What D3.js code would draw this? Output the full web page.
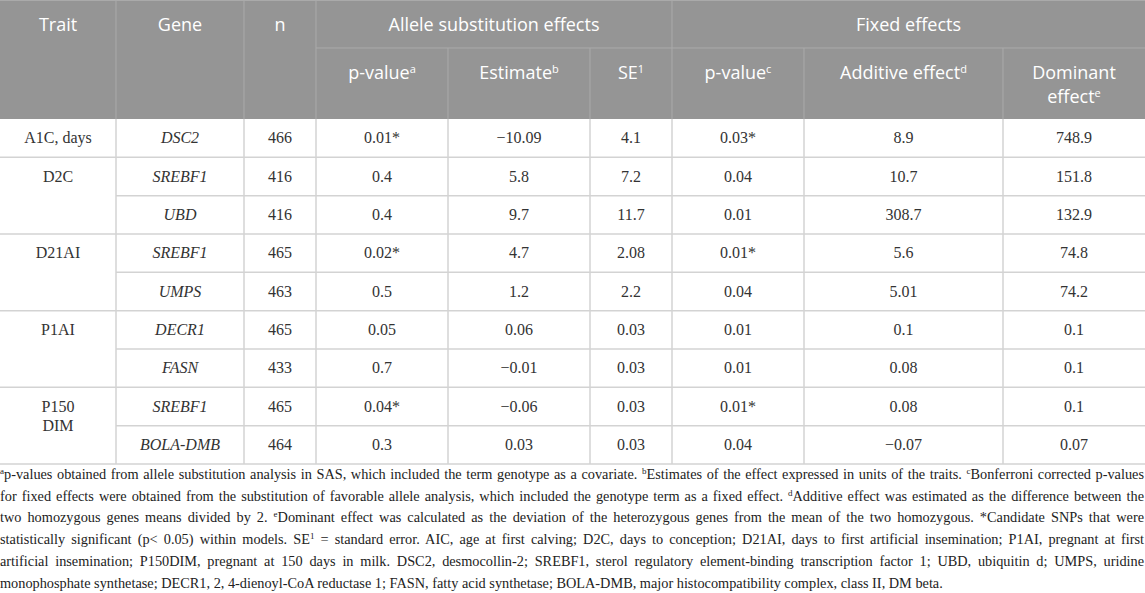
<!DOCTYPE html>
<html>
<head>
<meta charset="utf-8">
<script src="https://cdn.jsdelivr.net/npm/d3@7"></script>
<style>
  body { margin: 0; background: #fff; }
  svg { display: block; }
</style>
</head>
<body>
<div id="table-area"></div>
<script>
// Table values
var traitNames = ["A1C, days", "D2C", "D21AI", "P1AI", "P150 DIM"];
var traitSpans = [1, 2, 2, 2, 2];
var genes = ["DSC2", "SREBF1", "UBD", "SREBF1", "UMPS", "DECR1", "FASN", "SREBF1", "BOLA-DMB"];
var nValues = ["466", "416", "416", "465", "463", "465", "433", "465", "464"];
var pAllele = ["0.01*", "0.4", "0.4", "0.02*", "0.5", "0.05", "0.7", "0.04*", "0.3"];
var estimates = ["\u221210.09", "5.8", "9.7", "4.7", "1.2", "0.06", "\u22120.01", "\u22120.06", "0.03"];
var seValues = ["4.1", "7.2", "11.7", "2.08", "2.2", "0.03", "0.03", "0.03", "0.03"];
var pFixed = ["0.03*", "0.04", "0.01", "0.01*", "0.04", "0.01", "0.01", "0.01*", "0.04"];
var additive = ["8.9", "10.7", "308.7", "5.6", "5.01", "0.1", "0.08", "0.08", "\u22120.07"];
var dominant = ["748.9", "151.8", "132.9", "74.8", "74.2", "0.1", "0.1", "0.1", "0.07"];

// Header labels: [text, superscript]
var groupHeaders = [["Allele substitution effects", 3, 6], ["Fixed effects", 6, 9]];
var subHeaders = [["p-value", "a"], ["Estimate", "b"], ["SE", "1"], ["p-value", "c"], ["Additive effect", "d"], ["Dominant|effect", "e"]];

var footnoteLines = [
  "{a}p-values obtained from allele substitution analysis in SAS, which included the term genotype as a covariate. {b}Estimates of the effect expressed in units of the traits. {c}Bonferroni corrected p-values",
  "for fixed effects were obtained from the substitution of favorable allele analysis, which included the genotype term as a fixed effect. {d}Additive effect was estimated as the difference between the",
  "two homozygous genes means divided by 2. {e}Dominant effect was calculated as the deviation of the heterozygous genes from the mean of the two homozygous. *Candidate SNPs that were",
  "statistically significant (p< 0.05) within models. SE{1} = standard error. AIC, age at first calving; D2C, days to conception; D21AI, days to first artificial insemination; P1AI, pregnant at first",
  "artificial insemination; P150DIM, pregnant at 150 days in milk. DSC2, desmocollin-2; SREBF1, sterol regulatory element-binding transcription factor 1; UBD, ubiquitin d; UMPS, uridine",
  "monophosphate synthetase; DECR1, 2, 4-dienoyl-CoA reductase 1; FASN, fatty acid synthetase; BOLA-DMB, major histocompatibility complex, class II, DM beta."
];

// Layout
var width = 1145, height = 593;
var colEdges = [0, 116, 244, 316, 448, 590, 672, 804, 1003, 1145];
var headTop = 0, headMid = 48, headBottom = 119, tableBottom = 464;
var headFont = "'Open Sans', 'Noto Sans', sans-serif";
var bodyFont = "'Liberation Serif', 'DejaVu Serif', serif";

var svg = d3.select("#table-area")
  .append("svg")
    .attr("width", width)
    .attr("height", height);

var y = d3.scaleLinear()
  .domain([0, genes.length])
  .range([headBottom, tableBottom]);

function colCenter(i) { return (colEdges[i] + colEdges[i + 1]) / 2; }

// Header background
svg.append("rect")
  .attr("x", 0).attr("y", headTop)
  .attr("width", width).attr("height", headBottom - headTop)
  .attr("fill", "#959595");

var headLines = svg.append("g")
  .attr("stroke", "#aaaaaa")
  .attr("stroke-width", 1);
headLines.append("line").attr("x1", 0).attr("x2", width).attr("y1", 0.5).attr("y2", 0.5);
[1, 2, 3, 6].forEach(function(i) {
  headLines.append("line")
    .attr("x1", colEdges[i]).attr("x2", colEdges[i])
    .attr("y1", headTop).attr("y2", headBottom);
});
[4, 5, 7, 8].forEach(function(i) {
  headLines.append("line")
    .attr("x1", colEdges[i]).attr("x2", colEdges[i])
    .attr("y1", headMid).attr("y2", headBottom);
});
headLines.append("line")
  .attr("x1", colEdges[3]).attr("x2", width)
  .attr("y1", headMid).attr("y2", headMid);

var head = svg.append("g")
  .attr("font-family", headFont)
  .attr("font-size", "18px")
  .attr("fill", "#ffffff")
  .attr("text-anchor", "middle");

["Trait", "Gene", "n"].forEach(function(t, i) {
  head.append("text")
    .attr("x", colCenter(i)).attr("y", 31)
    .text(t);
});

groupHeaders.forEach(function(gh) {
  head.append("text")
    .attr("x", (colEdges[gh[1]] + colEdges[gh[2]]) / 2).attr("y", 31)
    .text(gh[0]);
});

subHeaders.forEach(function(sh, i) {
  var parts = sh[0].split("|");
  var cx = colCenter(i + 3);
  parts.forEach(function(p, j) {
    var t = head.append("text")
      .attr("x", cx).attr("y", 79 + j * 24);
    t.append("tspan").text(p);
    if (j == parts.length - 1) {
      t.append("tspan")
        .attr("font-size", "11px")
        .attr("dy", -6)
        .text(sh[1]);
    }
  });
});

// Body grid
var grid = svg.append("g")
  .attr("stroke", "#d3d3d3")
  .attr("stroke-width", 1.5);

var groupStarts = [];
var acc = 0;
traitSpans.forEach(function(s) { groupStarts.push(acc); acc += s; });

d3.range(1, genes.length + 1).forEach(function(k) {
  var isGroupEdge = groupStarts.indexOf(k) >= 0 || k == genes.length;
  grid.append("line")
    .attr("x1", isGroupEdge ? 0 : colEdges[1]).attr("x2", width)
    .attr("y1", y(k)).attr("y2", y(k));
});
colEdges.slice(1, -1).forEach(function(cx) {
  grid.append("line")
    .attr("x1", cx).attr("x2", cx)
    .attr("y1", headBottom).attr("y2", tableBottom);
});

// Body text
var body = svg.append("g")
  .attr("font-family", bodyFont)
  .attr("font-size", "16px")
  .attr("fill", "#333333")
  .attr("text-anchor", "middle");

traitNames.forEach(function(name, i) {
  var lines = name == "P150 DIM" ? ["P150", "DIM"] : [name];
  lines.forEach(function(l, j) {
    body.append("text")
      .attr("x", colCenter(0))
      .attr("y", (y(groupStarts[i]) + y(groupStarts[i] + 1)) / 2 + 5 + j * 19)
      .text(l);
  });
});

var columns = [genes, nValues, pAllele, estimates, seValues, pFixed, additive, dominant];
columns.forEach(function(col, c) {
  body.selectAll(null)
    .data(col)
    .enter()
    .append("text")
      .attr("x", colCenter(c + 1))
      .attr("y", function(d, i) { return (y(i) + y(i + 1)) / 2 + 5; })
      .attr("font-style", c == 0 ? "italic" : "normal")
      .text(function(d) { return d; });
});

// Footnote, justified line by line
var foot = svg.append("g")
  .attr("font-family", bodyFont)
  .attr("font-size", "14.3px")
  .attr("fill", "#222222");

footnoteLines.forEach(function(line, i) {
  var t = foot.append("text")
    .attr("x", 0)
    .attr("y", 479 + i * 21.7);
  var pieces = line.split(/(\{[^}]+\})/);
  var shifted = false;
  pieces.forEach(function(p) {
    if (p === "") return;
    if (p[0] == "{") {
      t.append("tspan")
        .attr("font-size", "9px")
        .attr("dy", shifted ? 0 : -5)
        .text(p.slice(1, -1));
      shifted = true;
    } else {
      t.append("tspan")
        .attr("dy", shifted ? 5 : 0)
        .text(p);
      shifted = false;
    }
  });
  if (i < footnoteLines.length - 1) {
    var spaces = line.split(" ").length - 1;
    var natural = t.node().getComputedTextLength();
    t.attr("word-spacing", (width - 1 - natural) / spaces);
  }
});
</script>
</body>
</html>
